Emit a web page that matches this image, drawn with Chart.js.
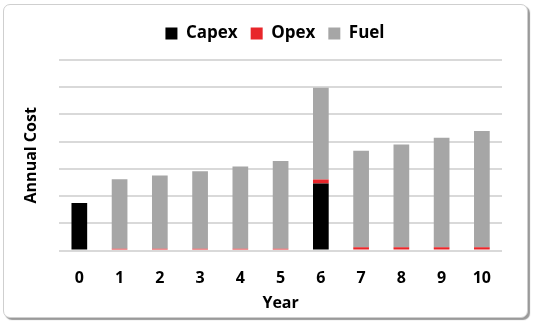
<!DOCTYPE html>
<html>
<head>
<meta charset="utf-8">
<script src="https://cdn.jsdelivr.net/npm/chart.js@4/dist/chart.umd.min.js"></script>
<style>
  html, body { margin: 0; padding: 0; background: #ffffff; }
  #frame {
    position: absolute; left: 3px; top: 4px; width: 523px; height: 312px;
    border: 1px solid #cfcfcf; border-radius: 7px; background: #ffffff;
    box-shadow: 2px 2px 1px #9a9a9a;
  }
  #c { position: absolute; left: 0; top: 0; }
</style>
</head>
<body>
<div id="frame"></div>
<canvas id="c" width="533" height="323"></canvas>
<script>
const years = ["0","1","2","3","4","5","6","7","8","9","10"];
const capex = [1.75, 0, 0, 0, 0, 0, 2.46, 0, 0, 0, 0];
const opex  = [0, 0.07, 0.07, 0.07, 0.07, 0.07, 0.15, 0.12, 0.12, 0.12, 0.12];
const fuel  = [0, 2.55, 2.69, 2.84, 3.02, 3.22, 3.37, 3.55, 3.78, 4.02, 4.27];
const yTicks = [0, 1, 2, 3, 4, 5, 6, 7];

Chart.defaults.font.family = "'Open Sans', sans-serif";
Chart.defaults.color = '#000000';

const legendTweak = {
  id: 'legendTweak',
  beforeInit(chart) {
    const fit = chart.legend.fit;
    chart.legend.fit = function () { fit.call(this); this.height += 8; };
  },
  afterLayout(chart) {
    chart.legend.left += 13;
    chart.legend.right += 13;
  }
};

new Chart(document.getElementById('c'), {
  type: 'bar',
  data: {
    labels: years,
    datasets: [
      { label: 'Capex', data: capex, backgroundColor: '#000000' },
      { label: 'Opex',  data: opex,  backgroundColor: '#e8262a' },
      { label: 'Fuel',  data: fuel,  backgroundColor: '#a6a6a6' }
    ]
  },
  plugins: [legendTweak],
  options: {
    responsive: false,
    animation: false,
    devicePixelRatio: 1,
    datasets: { bar: { barPercentage: 0.39, categoryPercentage: 1.0 } },
    layout: { padding: { left: 22, right: 31, top: 12, bottom: 8 } },
    plugins: {
      tooltip: { enabled: false },
      legend: {
        position: 'top',
        labels: {
          boxWidth: 12, boxHeight: 12, padding: 13,
          font: { size: 17, weight: 'bold' }
        }
      }
    },
    scales: {
      x: {
        stacked: true,
        grid: { display: false },
        border: { display: false },
        ticks: { padding: 10, font: { size: 16, weight: 'bold' } },
        title: { display: true, text: 'Year', padding: { top: -4, bottom: 2 },
                 font: { size: 16, weight: 'bold' } }
      },
      y: {
        stacked: true,
        min: 0, max: 7,
        afterBuildTicks: (axis) => { axis.ticks = yTicks.map(v => ({ value: v })); },
        grid: { color: '#d9d9d9', lineWidth: 2, drawTicks: false },
        border: { display: false },
        ticks: { display: false },
        title: { display: true, text: 'Annual Cost', padding: { top: 0, bottom: 18 },
                 font: { size: 16, weight: 'bold' } }
      }
    }
  }
});
</script>
</body>
</html>
